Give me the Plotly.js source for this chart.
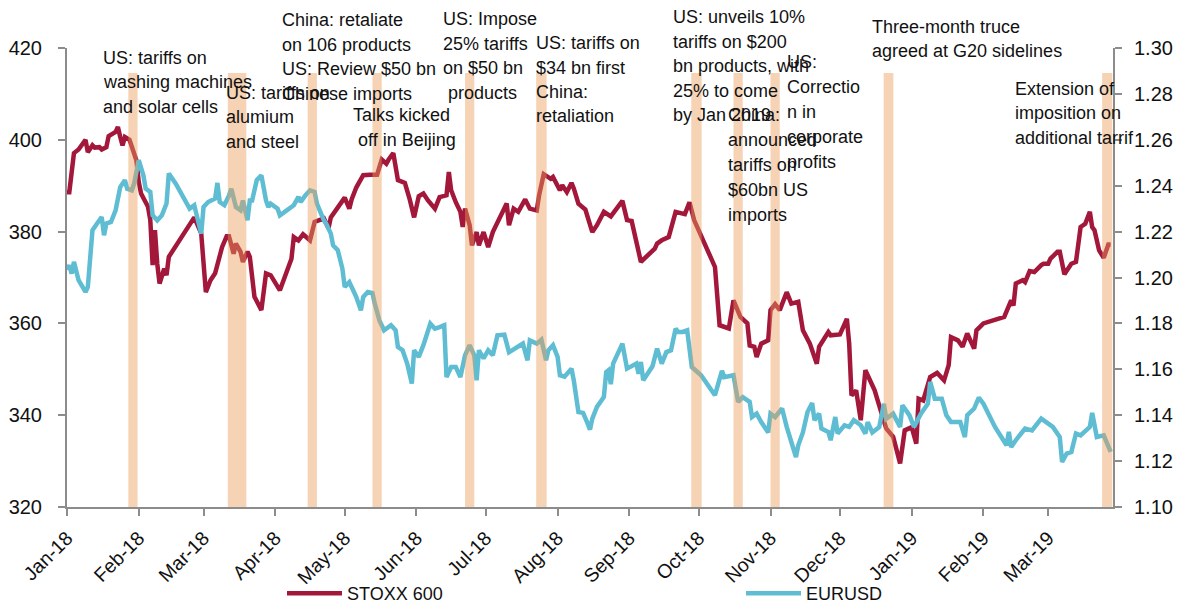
<!DOCTYPE html>
<html>
<head>
<meta charset="utf-8">
<script src="https://cdn.plot.ly/plotly-3.0.1.min.js"></script>
<style>html,body{margin:0;padding:0;background:#fff;}#chart{width:1186px;height:604px;}</style>
</head>
<body>
<div id="chart"></div>
<script>
// ---------------- DATA ----------------
const stoxxDates = ['2018-01-01','2018-01-02','2018-01-04','2018-01-06','2018-01-09','2018-01-10','2018-01-12','2018-01-13','2018-01-15','2018-01-16','2018-01-18','2018-01-19','2018-01-22','2018-01-23','2018-01-24','2018-01-25','2018-01-26','2018-01-28','2018-01-30','2018-01-31','2018-02-01','2018-02-02','2018-02-05','2018-02-06','2018-02-07','2018-02-08','2018-02-09','2018-02-10','2018-02-12','2018-02-13','2018-02-14','2018-02-25','2018-02-28','2018-03-01','2018-03-02','2018-03-04','2018-03-06','2018-03-09','2018-03-11','2018-03-12','2018-03-14','2018-03-15','2018-03-17','2018-03-18','2018-03-20','2018-03-21','2018-03-23','2018-03-26','2018-03-28','2018-03-30','2018-04-03','2018-04-08','2018-04-09','2018-04-11','2018-04-13','2018-04-16','2018-04-18','2018-04-22','2018-04-24','2018-04-25','2018-04-28','2018-05-01','2018-05-03','2018-05-04','2018-05-06','2018-05-09','2018-05-12','2018-05-15','2018-05-17','2018-05-19','2018-05-20','2018-05-22','2018-05-24','2018-05-27','2018-05-29','2018-05-31','2018-06-02','2018-06-04','2018-06-06','2018-06-09','2018-06-11','2018-06-14','2018-06-15','2018-06-16','2018-06-18','2018-06-20','2018-06-21','2018-06-22','2018-06-24','2018-06-25','2018-06-27','2018-06-28','2018-06-30','2018-07-01','2018-07-02','2018-07-04','2018-07-06','2018-07-10','2018-07-11','2018-07-13','2018-07-15','2018-07-18','2018-07-20','2018-07-23','2018-07-24','2018-07-26','2018-07-29','2018-07-30','2018-08-02','2018-08-03','2018-08-05','2018-08-07','2018-08-08','2018-08-10','2018-08-13','2018-08-15','2018-08-16','2018-08-18','2018-08-21','2018-08-24','2018-08-27','2018-08-29','2018-08-31','2018-09-02','2018-09-06','2018-09-10','2018-09-12','2018-09-13','2018-09-15','2018-09-18','2018-09-21','2018-09-25','2018-09-27','2018-09-29','2018-10-05','2018-10-08','2018-10-10','2018-10-14','2018-10-16','2018-10-19','2018-10-22','2018-10-23','2018-10-25','2018-10-26','2018-10-28','2018-10-31','2018-11-01','2018-11-03','2018-11-05','2018-11-08','2018-11-10','2018-11-13','2018-11-15','2018-11-18','2018-11-21','2018-11-22','2018-11-26','2018-11-27','2018-12-01','2018-12-04','2018-12-05','2018-12-06','2018-12-08','2018-12-10','2018-12-12','2018-12-16','2018-12-19','2018-12-21','2018-12-24','2018-12-27','2018-12-29','2019-01-01','2019-01-03','2019-01-04','2019-01-06','2019-01-08','2019-01-09','2019-01-12','2019-01-15','2019-01-17','2019-01-18','2019-01-21','2019-01-23','2019-01-25','2019-01-28','2019-01-29','2019-02-01','2019-02-10','2019-02-13','2019-02-14','2019-02-15','2019-02-18','2019-02-19','2019-02-21','2019-02-23','2019-02-26','2019-02-27','2019-03-01','2019-03-02','2019-03-05','2019-03-06','2019-03-08','2019-03-11','2019-03-13','2019-03-15','2019-03-17','2019-03-19','2019-03-20','2019-03-21','2019-03-23','2019-03-25','2019-03-27','2019-03-28'];
const stoxx600 = [388.6,388.6,397.1,397.9,400.0,397.3,398.8,398.3,398.4,397.9,398.4,400.8,401.7,402.8,400.6,398.8,400.6,400.0,397.0,395.5,390.8,388.3,385.4,382.5,372.7,380.3,373.0,368.7,371.9,370.5,374.5,383.1,379.6,373.7,366.8,369.4,370.9,376.6,379.0,379.0,375.2,377.4,375.6,373.4,375.6,374.5,365.8,362.9,370.9,370.5,367.2,374.1,378.8,378.1,379.4,378.1,382.1,382.9,380.7,383.1,385.4,387.4,385.0,387.0,389.6,392.3,392.4,392.4,395.7,394.8,395.7,397.1,391.2,390.6,387.2,383.1,387.7,388.3,386.8,385.0,387.5,387.9,393.0,389.0,386.4,384.3,381.0,385.0,381.4,377.0,379.9,377.0,379.9,378.5,376.6,379.9,382.1,386.1,381.4,385.0,384.3,387.0,385.0,384.6,387.9,392.5,391.5,391.9,389.0,390.1,388.6,390.6,389.4,386.1,384.8,381.4,379.9,381.4,384.3,383.3,385.4,386.7,382.5,382.3,373.4,375.2,376.3,377.4,378.1,378.8,384.3,383.8,386.4,382.5,375.9,372.3,359.6,358.9,365.0,361.4,360.0,355.2,354.9,352.7,355.6,356.3,362.9,364.2,362.9,366.8,364.3,364.7,358.5,355.6,351.2,354.9,358.1,357.4,357.6,361.0,355.6,344.3,345.4,338.9,349.8,345.4,340.4,337.1,335.3,329.5,336.7,337.4,333.8,343.6,343.2,346.5,348.3,349.2,347.6,350.9,357.0,356.3,354.9,357.8,354.5,358.5,360.0,361.4,365.0,363.9,368.7,369.4,369.0,371.4,371.2,372.7,373.0,373.0,374.1,375.6,375.6,370.7,373.0,373.4,381.0,381.7,384.3,381.0,380.3,375.9,374.3,377.2,377.2];

const eurusdDates = ['2018-01-01','2018-01-02','2018-01-03','2018-01-04','2018-01-06','2018-01-09','2018-01-10','2018-01-12','2018-01-14','2018-01-16','2018-01-17','2018-01-18','2018-01-20','2018-01-22','2018-01-24','2018-01-26','2018-01-27','2018-01-29','2018-01-30','2018-02-01','2018-02-03','2018-02-04','2018-02-06','2018-02-07','2018-02-09','2018-02-11','2018-02-13','2018-02-14','2018-02-17','2018-02-22','2018-02-23','2018-02-25','2018-02-28','2018-03-01','2018-03-03','2018-03-06','2018-03-07','2018-03-08','2018-03-10','2018-03-12','2018-03-13','2018-03-15','2018-03-17','2018-03-18','2018-03-20','2018-03-21','2018-03-22','2018-03-24','2018-03-26','2018-03-28','2018-03-29','2018-03-30','2018-04-02','2018-04-03','2018-04-06','2018-04-09','2018-04-11','2018-04-12','2018-04-14','2018-04-16','2018-04-18','2018-04-19','2018-04-22','2018-04-23','2018-04-25','2018-04-26','2018-04-28','2018-04-30','2018-05-01','2018-05-03','2018-05-05','2018-05-06','2018-05-08','2018-05-09','2018-05-11','2018-05-13','2018-05-14','2018-05-16','2018-05-18','2018-05-21','2018-05-23','2018-05-24','2018-05-26','2018-05-28','2018-05-30','2018-05-31','2018-06-02','2018-06-04','2018-06-07','2018-06-09','2018-06-11','2018-06-13','2018-06-14','2018-06-16','2018-06-18','2018-06-20','2018-06-22','2018-06-24','2018-06-26','2018-06-27','2018-06-28','2018-06-30','2018-07-02','2018-07-04','2018-07-06','2018-07-09','2018-07-11','2018-07-15','2018-07-17','2018-07-19','2018-07-20','2018-07-23','2018-07-25','2018-07-27','2018-07-28','2018-07-30','2018-08-01','2018-08-02','2018-08-04','2018-08-07','2018-08-08','2018-08-10','2018-08-12','2018-08-14','2018-08-15','2018-08-16','2018-08-18','2018-08-21','2018-08-22','2018-08-23','2018-08-24','2018-08-25','2018-08-29','2018-08-31','2018-09-02','2018-09-04','2018-09-05','2018-09-06','2018-09-07','2018-09-11','2018-09-13','2018-09-15','2018-09-17','2018-09-19','2018-09-21','2018-09-22','2018-09-24','2018-09-26','2018-09-28','2018-10-02','2018-10-08','2018-10-11','2018-10-12','2018-10-16','2018-10-18','2018-10-20','2018-10-23','2018-10-24','2018-10-26','2018-10-28','2018-10-31','2018-11-01','2018-11-03','2018-11-06','2018-11-08','2018-11-12','2018-11-13','2018-11-15','2018-11-17','2018-11-19','2018-11-20','2018-11-22','2018-11-23','2018-11-26','2018-11-27','2018-11-29','2018-11-30','2018-12-03','2018-12-05','2018-12-07','2018-12-10','2018-12-12','2018-12-13','2018-12-15','2018-12-18','2018-12-20','2018-12-21','2018-12-24','2018-12-27','2018-12-28','2018-12-31','2019-01-02','2019-01-05','2019-01-08','2019-01-09','2019-01-11','2019-01-14','2019-01-16','2019-01-18','2019-01-22','2019-01-24','2019-01-25','2019-01-28','2019-01-30','2019-02-01','2019-02-06','2019-02-11','2019-02-12','2019-02-13','2019-02-15','2019-02-19','2019-02-22','2019-02-26','2019-03-03','2019-03-06','2019-03-07','2019-03-09','2019-03-11','2019-03-13','2019-03-15','2019-03-19','2019-03-20','2019-03-22','2019-03-25','2019-03-28'];
const eurusd = [1.2034,1.2053,1.2017,1.2068,1.1988,1.1937,1.1959,1.2206,1.2235,1.2264,1.2184,1.2235,1.2242,1.2293,1.2394,1.2424,1.2387,1.2380,1.2409,1.2511,1.2445,1.2387,1.2373,1.2271,1.2249,1.2271,1.2322,1.2453,1.2409,1.2322,1.2300,1.2315,1.2191,1.2307,1.2329,1.2344,1.2412,1.2329,1.2315,1.2358,1.2387,1.2307,1.2293,1.2336,1.2249,1.2336,1.2336,1.2424,1.2445,1.2336,1.2307,1.2322,1.2300,1.2271,1.2293,1.2315,1.2351,1.2329,1.2358,1.2380,1.2373,1.2322,1.2249,1.2235,1.2191,1.2140,1.2119,1.2039,1.1959,1.1980,1.1937,1.1915,1.1857,1.1915,1.1937,1.1932,1.1886,1.1813,1.1770,1.1792,1.1770,1.1697,1.1683,1.1625,1.1538,1.1683,1.1654,1.1705,1.1799,1.1777,1.1784,1.1792,1.1566,1.1610,1.1610,1.1566,1.1661,1.1705,1.1661,1.1552,1.1683,1.1647,1.1683,1.1661,1.1748,1.1751,1.1674,1.1697,1.1712,1.1639,1.1726,1.1712,1.1729,1.1639,1.1683,1.1705,1.1654,1.1574,1.1568,1.1603,1.1552,1.1414,1.1410,1.1363,1.1337,1.1385,1.1436,1.1479,1.1588,1.1596,1.1535,1.1625,1.1712,1.1603,1.1613,1.1625,1.1581,1.1632,1.1552,1.1613,1.1690,1.1625,1.1675,1.1683,1.1777,1.1763,1.1763,1.1770,1.1610,1.1574,1.1487,1.1593,1.1566,1.1574,1.1458,1.1479,1.1458,1.1392,1.1407,1.1370,1.1325,1.1407,1.1392,1.1429,1.1349,1.1218,1.1269,1.1325,1.1414,1.1453,1.1378,1.1407,1.1342,1.1327,1.1291,1.1392,1.1320,1.1356,1.1349,1.1378,1.1356,1.1320,1.1370,1.1325,1.1349,1.1450,1.1385,1.1407,1.1349,1.1443,1.1400,1.1349,1.1407,1.1450,1.1545,1.1472,1.1472,1.1400,1.1370,1.1370,1.1305,1.1400,1.1429,1.1477,1.1450,1.1349,1.1269,1.1327,1.1261,1.1291,1.1342,1.1334,1.1385,1.1349,1.1305,1.1196,1.1233,1.1240,1.1320,1.1312,1.1349,1.1410,1.1305,1.1312,1.1240];

// trade-war events: centre date and span in days
const eventDates = ['2018-01-29T12:00:00Z','2018-03-15T12:00:00Z','2018-04-17T00:00:00Z','2018-05-15T00:00:00Z','2018-06-24T00:00:00Z','2018-07-25T00:00:00Z','2018-09-30T00:00:00Z','2018-10-18T00:00:00Z','2018-11-03T00:00:00Z','2018-12-22T00:00:00Z','2019-03-26T12:00:00Z'];
const eventDays = [4, 8, 4, 4, 4, 4.5, 4.5, 4, 4, 4.2, 4.4];

const eventLabels = [
  ['US: tariffs on', 'washing machines', 'and solar cells'],
  ['US: tariffs on', 'alumium', 'and steel'],
  ['China: retaliate', 'on 106 products', 'US: Review $50 bn', 'Chinese imports'],
  ['Talks kicked', '\u00a0off in Beijing'],
  ['US: Impose', '25% tariffs', 'on $50 bn', '\u00a0products'],
  ['US: tariffs on', '$34 bn first', 'China:', 'retaliation'],
  ['US: unveils 10%', 'tariffs on $200', 'bn products, with', '25% to come', 'by Jan 2019'],
  ['China:', 'announced', 'tariffs on', '$60bn US', 'imports'],
  ['US:', 'Correctio', 'n in', 'corporate', 'profits'],
  ['Three-month truce', 'agreed at G20 sidelines'],
  ['Extension of', 'imposition on', 'additional tarrif']
];

// ---------------- LAYOUT HELPERS ----------------
const W = 1186, H = 604;
const M = {l: 67, r: 73, t: 48, b: 97};
const PW = W - M.l - M.r, PH = H - M.t - M.b;
const FONT = 'Liberation Sans, Arial, sans-serif';
// pixel placement (left edge, first line centre, line step) of each label block
const labelPos = [
  [102.7, 57.7, 24.4], [225.7, 93, 24.4], [281.7, 20.5, 24.4], [353, 115, 25],
  [443.3, 19.3, 24.4], [536, 43.3, 24.4], [672.7, 17.3, 24.5], [728.3, 115, 25],
  [786.7, 62, 25], [871.7, 26.7, 24.2], [1015, 89.3, 24.2]
];
const px2x = p => (p - M.l) / PW;
const py2y = p => (H - M.b - p) / PH;

const annotations = [];
eventLabels.forEach((lines, i) => {
  const [lx, ly, step] = labelPos[i];
  lines.forEach((t, j) => {
    annotations.push({
      xref: 'paper', yref: 'paper', x: px2x(lx), y: py2y(ly + j * step),
      xanchor: 'left', yanchor: 'middle', showarrow: false, text: t,
      align: 'left', borderpad: 0, borderwidth: 0,
      font: {family: FONT, size: 18, color: '#111'}
    });
  });
});

const DAY = 86400000;
const shapes = eventDates.map((d, i) => {
  const c = Date.parse(d);
  return {
    type: 'rect', xref: 'x', yref: 'paper', layer: 'above',
    x0: c - eventDays[i] * DAY / 2, x1: c + eventDays[i] * DAY / 2,
    y0: 0, y1: py2y(73),
    fillcolor: 'rgba(235,157,91,0.45)', line: {width: 0}
  };
});

const traces = [
  {x: stoxxDates, y: stoxx600, name: 'STOXX 600', type: 'scatter', mode: 'lines',
   line: {color: '#A3173A', width: 4.5}, yaxis: 'y'},
  {x: eurusdDates, y: eurusd, name: 'EURUSD', type: 'scatter', mode: 'lines',
   line: {color: '#5EBDD2', width: 4.5}, yaxis: 'y2'}
];

const axisCommon = {
  showgrid: false, zeroline: false, showline: true, linecolor: '#8c8c8c', linewidth: 2,
  ticks: 'outside', tickcolor: '#8c8c8c', tickwidth: 2, automargin: false
};

const layout = {
  width: W, height: H,
  margin: {l: M.l, r: M.r, t: M.t, b: M.b, autoexpand: false},
  paper_bgcolor: '#fff', plot_bgcolor: '#fff',
  font: {family: FONT, color: '#111'},
  showlegend: true,
  legend: {
    orientation: 'h', x: px2x(282), xanchor: 'left', y: py2y(575), yanchor: 'top',
    font: {family: FONT, size: 18, color: '#111'}, itemwidth: 55,
    entrywidth: 389, entrywidthmode: 'pixels', bgcolor: 'rgba(0,0,0,0)', traceorder: 'normal'
  },
  xaxis: Object.assign({}, axisCommon, {
    type: 'date', range: ['2018-01-01', '2019-03-29'],
    tick0: '2018-01-01', dtick: 'M1', tickformat: '%b-%y', tickangle: -45,
    ticklen: 7, ticklabelstandoff: 3, tickfont: {family: FONT, size: 19.5, color: '#111'}
  }),
  yaxis: Object.assign({}, axisCommon, {
    range: [320, 420], dtick: 20, ticklen: 7, ticklabelstandoff: 12,
    tickfont: {family: FONT, size: 20, color: '#111'}
  }),
  yaxis2: Object.assign({}, axisCommon, {
    overlaying: 'y', side: 'right', range: [1.10, 1.30], dtick: 0.02, tickformat: '.2f',
    ticklen: 7, ticklabelstandoff: 8, tickfont: {family: FONT, size: 20, color: '#111'}
  }),
  shapes: shapes,
  annotations: annotations
};

Plotly.newPlot('chart', traces, layout, {displayModeBar: false, staticPlot: true});
</script>
</body>
</html>
